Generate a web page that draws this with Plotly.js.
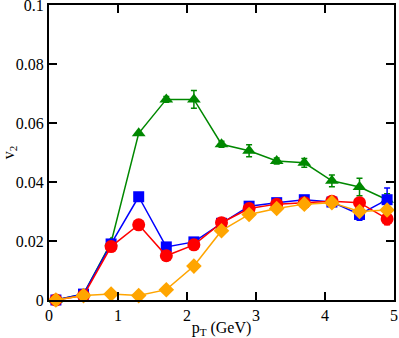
<!DOCTYPE html>
<html>
<head>
<meta charset="utf-8">
<script src="https://cdn.plot.ly/plotly-3.0.1.min.js"></script>
<style>
  html, body { margin: 0; padding: 0; background: #fff; }
  #chart { width: 399px; height: 338px; }
</style>
</head>
<body>
<div id="chart"></div>
<script>
// pT bins (GeV)
var pt = [0.1, 0.5, 0.9, 1.3, 1.7, 2.1, 2.5, 2.9, 3.3, 3.7, 4.1, 4.5, 4.9];

// v2 values per series
var greenV2 = [0, 0.002, 0.0195, 0.0565, 0.068, 0.068, 0.0528, 0.0506, 0.0471, 0.0465, 0.0404, 0.0383, 0.034];
var greenErr = [0, 0, 0, 0, 0.001, 0.003, 0.001, 0.002, 0.001, 0.0015, 0.002, 0.003, 0.002];

var blueV2 = [0, 0.002, 0.019, 0.035, 0.018, 0.0197, 0.026, 0.0318, 0.033, 0.034, 0.0332, 0.029, 0.034];
var blueErr = [0, 0, 0, 0, 0, 0, 0, 0.001, 0.001, 0.001, 0.0015, 0.002, 0.004];

var redV2 = [0, 0.0015, 0.0181, 0.0255, 0.015, 0.0187, 0.0262, 0.031, 0.0325, 0.033, 0.0335, 0.033, 0.0275];
var redErr = [0, 0, 0, 0, 0, 0, 0, 0, 0, 0, 0.001, 0.001, 0.002];

var orangeV2 = [0, 0.0015, 0.002, 0.0015, 0.0035, 0.0115, 0.0235, 0.029, 0.031, 0.0325, 0.033, 0.030, 0.0305];

function series(y, err, color, symbol, size) {
  var t = {
    x: pt, y: y,
    type: 'scatter', mode: 'lines+markers',
    cliponaxis: false,
    line: {color: color, width: 1.5},
    marker: {color: color, symbol: symbol, size: size}
  };
  if (err) {
    t.error_y = {type: 'data', array: err, visible: true, color: color, thickness: 1.5, width: 3};
  }
  return t;
}

var data = [
  series(greenV2, greenErr, '#008800', 'triangle-up', 12),
  series(blueV2, blueErr, '#0000ff', 'square', 11),
  series(redV2, redErr, '#ff0000', 'circle', 13),
  series(orangeV2, null, '#ffa500', 'diamond', 12)
];

var serif = 'Liberation Serif';

// framed axis with inward ticks on all four sides
function frameAxis(range, dtick, len) {
  return {
    range: range, dtick: dtick, tick0: 0,
    ticks: 'inside', ticklen: len, tickwidth: 1.5, tickcolor: 'black',
    showline: true, linewidth: 2, linecolor: 'black', mirror: 'allticks',
    showgrid: false, zeroline: false, ticklabeloverflow: 'allow'
  };
}

var xMain = frameAxis([0, 5], 1, 8);
xMain.tickfont = {family: serif, size: 16, color: 'black'};
xMain.title = {text: 'p<sub>T</sub> (GeV)', font: {family: serif, size: 16, color: 'black'}, standoff: 4};

var yMain = frameAxis([0, 0.1], 0.02, 8);
yMain.tickfont = {family: serif, size: 16, color: 'black'};
yMain.title = {text: 'v<sub>2</sub>', font: {family: serif, size: 16, color: 'black'}, standoff: 6};

// minor ticks drawn by overlay axes
var xMinor = frameAxis([0, 5], 0.5, 4);
xMinor.overlaying = 'x'; xMinor.showticklabels = false; xMinor.anchor = 'y';
var yMinor = frameAxis([0, 0.1], 0.01, 4);
yMinor.overlaying = 'y'; yMinor.showticklabels = false; yMinor.anchor = 'x';

var layout = {
  width: 399, height: 338,
  margin: {l: 49, r: 5, t: 5, b: 38},
  paper_bgcolor: 'white',
  plot_bgcolor: 'white',
  showlegend: false,
  font: {family: serif, size: 16, color: 'black'},
  xaxis: xMain,
  yaxis: yMain,
  xaxis2: xMinor,
  yaxis2: yMinor
};

Plotly.newPlot('chart', data, layout, {displayModeBar: false, staticPlot: true});
</script>
</body>
</html>
